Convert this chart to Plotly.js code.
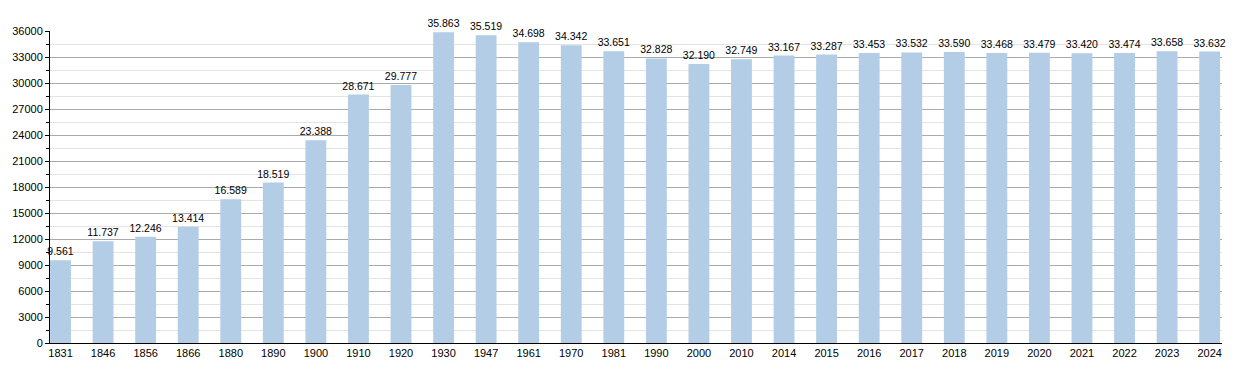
<!DOCTYPE html>
<html>
<head>
<meta charset="utf-8">
<script src="https://cdn.plot.ly/plotly-3.0.1.min.js"></script>
<style>html,body{margin:0;padding:0;background:#fff;}#chart{width:1250px;height:373px;}</style>
</head>
<body>
<div id="chart"></div>
<script>
const years = ["1831","1846","1856","1866","1880","1890","1900","1910","1920","1930","1947","1961","1970","1981","1990","2000","2010","2014","2015","2016","2017","2018","2019","2020","2021","2022","2023","2024"];
const population = [9561,11737,12246,13414,16589,18519,23388,28671,29777,35863,35519,34698,34342,33651,32828,32190,32749,33167,33287,33453,33532,33590,33468,33479,33420,33474,33658,33632];
const labels = ["9.561","11.737","12.246","13.414","16.589","18.519","23.388","28.671","29.777","35.863","35.519","34.698","34.342","33.651","32.828","32.190","32.749","33.167","33.287","33.453","33.532","33.590","33.468","33.479","33.420","33.474","33.658","33.632"];

const n = years.length;
const trace = {
  type: 'bar',
  x: years,
  y: population,
  text: labels,
  textposition: 'outside',
  constraintext: 'none',
  cliponaxis: false,
  textfont: {family: 'Liberation Sans, Arial, sans-serif', size: 10.5, color: '#000'},
  marker: {color: '#b3cde6'},
  width: 0.49,
  hoverinfo: 'skip'
};
const layout = {
  width: 1250, height: 373,
  margin: {l: 50, r: 28, t: 31, b: 30},
  paper_bgcolor: '#fff', plot_bgcolor: '#fff',
  showlegend: false,
  font: {family: 'Liberation Sans, Arial, sans-serif', size: 11, color: '#000'},
  xaxis: {
    type: 'category',
    range: [-0.247, n - 1 + 0.29],
    showline: true, linecolor: '#000', linewidth: 1,
    ticks: '', showgrid: false, zeroline: false,
    tickfont: {size: 11, color: '#000'},
    fixedrange: true
  },
  yaxis: {
    range: [0, 36000],
    tickvals: [0,3000,6000,9000,12000,15000,18000,21000,24000,27000,30000,33000,36000],
    ticktext: ["0","3000","6000","9000","12000","15000","18000","21000","24000","27000","30000","33000","36000"],
    showline: true, linecolor: '#000', linewidth: 1,
    ticks: 'outside', ticklen: 4, tickcolor: '#000',
    showgrid: true, gridcolor: '#aaaaaa', gridwidth: 1,
    zeroline: false,
    minor: {dtick: 1500, tick0: 0, showgrid: true, gridcolor: '#e3e3e3', ticks: 'outside', ticklen: 3, tickcolor: '#000'},
    tickfont: {size: 11, color: '#000'},
    fixedrange: true
  }
};
Plotly.newPlot('chart', [trace], layout, {displayModeBar: false, staticPlot: true});
</script>
</body>
</html>
